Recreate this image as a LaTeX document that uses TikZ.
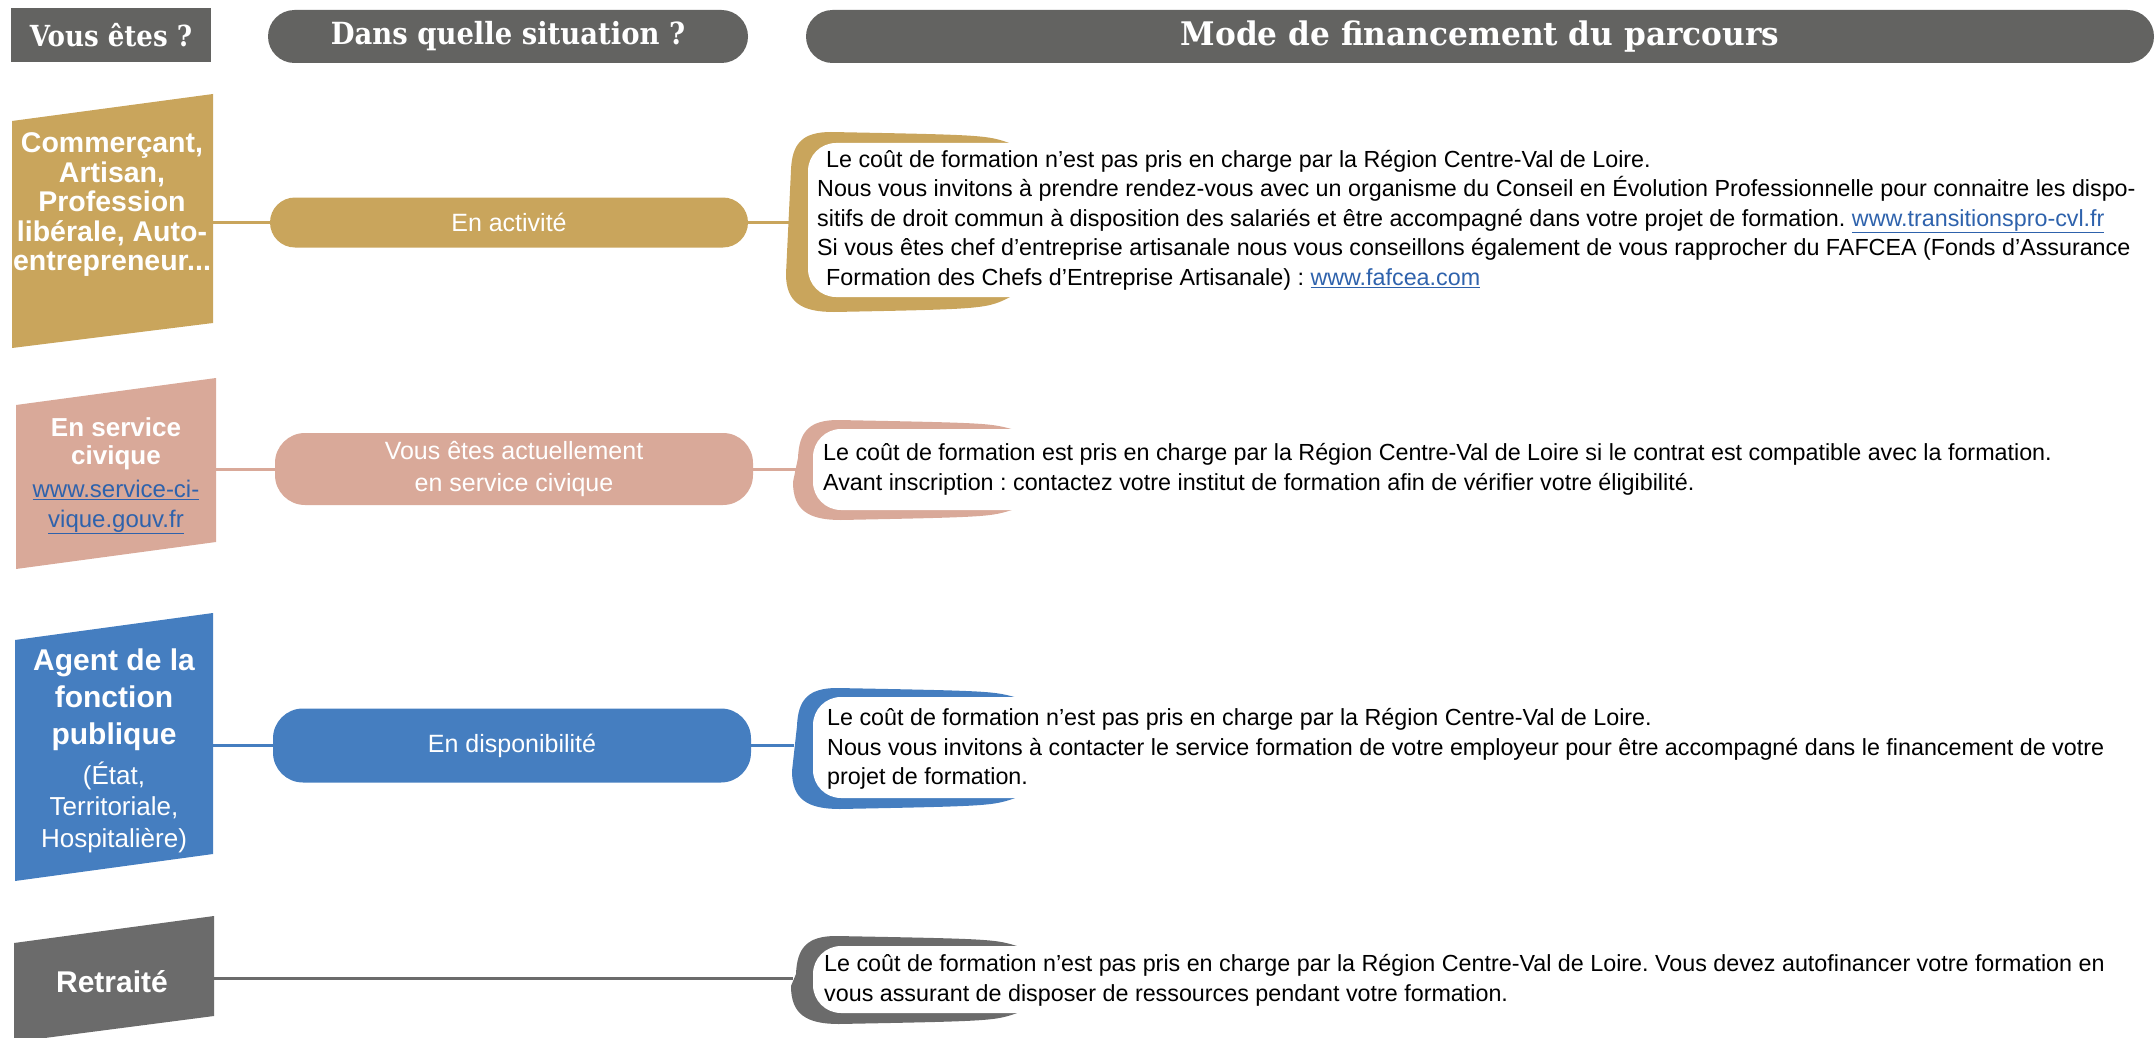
\documentclass[tikz,border=0pt]{standalone}
\usepackage{fontspec}
\setmainfont{Liberation Sans}
\newfontfamily\headfont[FakeStretch=0.9]{DejaVu Serif}
\newfontfamily\headfontw[FakeStretch=0.96]{DejaVu Serif}
\definecolor{hdgray}{HTML}{636361}
\definecolor{gold}{HTML}{C9A55C}
\definecolor{salmon}{HTML}{D9A999}
\definecolor{blueA}{HTML}{457EC0}
\definecolor{grayD}{HTML}{6B6B6B}
\definecolor{linkblue}{HTML}{2E62AC}
\newcommand{\lnk}[1]{\textcolor{linkblue}{\underline{#1}}}
\frenchspacing
% bracket: colour, outer left x, outer top, outer bottom, inner left x, inner top, inner bottom, taper x
\newcommand{\brk}[8]{%
  \fill[#1] (#8,#6+1) .. controls (#8-25,#3+3) .. (#2+45,#3)
    .. controls (#2+16,#3) and (#2+6,#3+12) .. (#2+5,#3+38)
    -- (#2,#4-38) .. controls (#2,#4-10) and (#2+15,#4) .. (#2+48,#4)
    .. controls (#8-25,#4-3) .. (#8,#7-1) -- cycle;
  \fill[white, rounded corners=28] (#5,#6) rectangle (1300,#7);
}
\begin{document}
\begin{tikzpicture}[x=1pt,y=-1pt,
  hdr/.style={fill=hdgray, text=white, font=\headfont\bfseries\fontsize{29}{32}\selectfont, inner sep=0pt},
  pill/.style={fill=#1, text=white, rounded corners=25, align=center, font=\fontsize{25}{32}\selectfont, inner sep=0pt},
  whob/.style={text=white, align=center, font=\bfseries\fontsize{28.5}{29.5}\selectfont, inner sep=0pt},
  whor/.style={text=white, align=center, font=\fontsize{26}{31.5}\selectfont, inner sep=0pt},
  body/.style={anchor=west, align=left, font=\fontsize{23.3}{29.5}\selectfont, inner sep=0pt, text=black},
  conn/.style={draw=#1, line width=3pt}]
\useasboundingbox (0,0) rectangle (2156,1038);

% headers
\node[hdr, minimum width=200, minimum height=54] (h1) at (111,35) {Vous êtes ?};
\node[hdr, font=\headfont\bfseries\fontsize{30.5}{32}\selectfont, rounded corners=26.5, minimum width=480, minimum height=53] (h2) at (508,36.5) {Dans quelle situation ?};
\node[hdr, font=\headfontw\bfseries\fontsize{32.5}{34}\selectfont, rounded corners=26.5, minimum width=1348, minimum height=53] (h3) at (1480,36.5) {Mode de financement du parcours};

% ---------- row 1 ----------
\fill[gold] (12,121) -- (213,94) -- (213,323) -- (12,348) -- cycle;
\node[whob] (w1) at (112,205) {Commerçant,\\Artisan,\\Profession\\libérale, Auto-\\entrepreneur...};
\coordinate (w1e) at (213,222.5);
\node[pill=gold, minimum width=478, minimum height=50] (p1) at (509,222.5) {En activité};
\brk{gold}{786}{132}{312}{808}{143}{297}{1012}
\coordinate (k1) at (789,222.5);
\draw[conn=gold] (w1e) -- (p1.west);
\draw[conn=gold] (p1.east) -- (k1);
\node[body] (t1) at (817,220) {\hspace*{9pt}Le coût de formation n’est pas pris en charge par la Région Centre-Val de Loire.\\Nous vous invitons à prendre rendez-vous avec un organisme du Conseil en Évolution Professionnelle pour connaitre les dispo-\\sitifs de droit commun à disposition des salariés et être accompagné dans votre projet de formation. \lnk{www.transitionspro-cvl.fr}\\Si vous êtes chef d’entreprise artisanale nous vous conseillons également de vous rapprocher du FAFCEA (Fonds d’Assurance\\\hspace*{9pt}Formation des Chefs d’Entreprise Artisanale) : \lnk{www.fafcea.com}};

% ---------- row 2 ----------
\fill[salmon] (16,405) -- (216,378) -- (216,542) -- (16,569) -- cycle;
\node[whob, font=\bfseries\fontsize{26}{28}\selectfont] (w2a) at (116,444) {En service\\civique};
\node[whor, font=\fontsize{24}{30}\selectfont] (w2b) at (116,507) {\lnk{www.service-ci-}\\\lnk{vique.gouv.fr}};
\coordinate (w2e) at (216,469);
\node[pill=salmon, minimum width=478, minimum height=72, rounded corners=30] (p2) at (514,469) {Vous êtes actuellement\\en service civique};
\brk{salmon}{793}{420}{520}{813}{429}{510}{1015}
\coordinate (k2) at (796,469);
\draw[conn=salmon] (w2e) -- (p2.west);
\draw[conn=salmon] (p2.east) -- (k2);
\node[body] (t2) at (823,469.5) {Le coût de formation est pris en charge par la Région Centre-Val de Loire si le contrat est compatible avec la formation.\\Avant inscription : contactez votre institut de formation afin de vérifier votre éligibilité.};

% ---------- row 3 ----------
\fill[blueA] (15,640) -- (213,613) -- (213,854) -- (15,881) -- cycle;
\node[whob, font=\bfseries\fontsize{30}{37}\selectfont] (w3a) at (114,700) {Agent de la\\fonction\\publique};
\node[whor] (w3b) at (114,807) {(État,\\Territoriale,\\Hospitalière)};
\coordinate (w3e) at (213,745.5);
\node[pill=blueA, minimum width=478, minimum height=74, rounded corners=30] (p3) at (512,745.5) {En disponibilité};
\brk{blueA}{792}{688}{809}{813}{697}{798}{1018}
\coordinate (k3) at (794,745.5);
\draw[conn=blueA] (w3e) -- (p3.west);
\draw[conn=blueA] (p3.east) -- (k3);
\node[body] (t3) at (827,749) {Le coût de formation n’est pas pris en charge par la Région Centre-Val de Loire.\\Nous vous invitons à contacter le service formation de votre employeur pour être accompagné dans le financement de votre\\projet de formation.};

% ---------- row 4 ----------
\fill[grayD] (14,943) -- (214,916) -- (214,1016) -- (14,1042) -- cycle;
\node[whob, font=\bfseries\fontsize{30}{32}\selectfont] (w4) at (112,982) {Retraité};
\coordinate (w4e) at (214,978);
\brk{grayD}{791}{936}{1024}{813}{946}{1013}{1020}
\coordinate (k4) at (793,978);
\draw[conn=grayD] (w4e) -- (k4);
\node[body] (t4) at (824,980.5) {Le coût de formation n’est pas pris en charge par la Région Centre-Val de Loire. Vous devez autofinancer votre formation en\\vous assurant de disposer de ressources pendant votre formation.};
\end{tikzpicture}
\end{document}
